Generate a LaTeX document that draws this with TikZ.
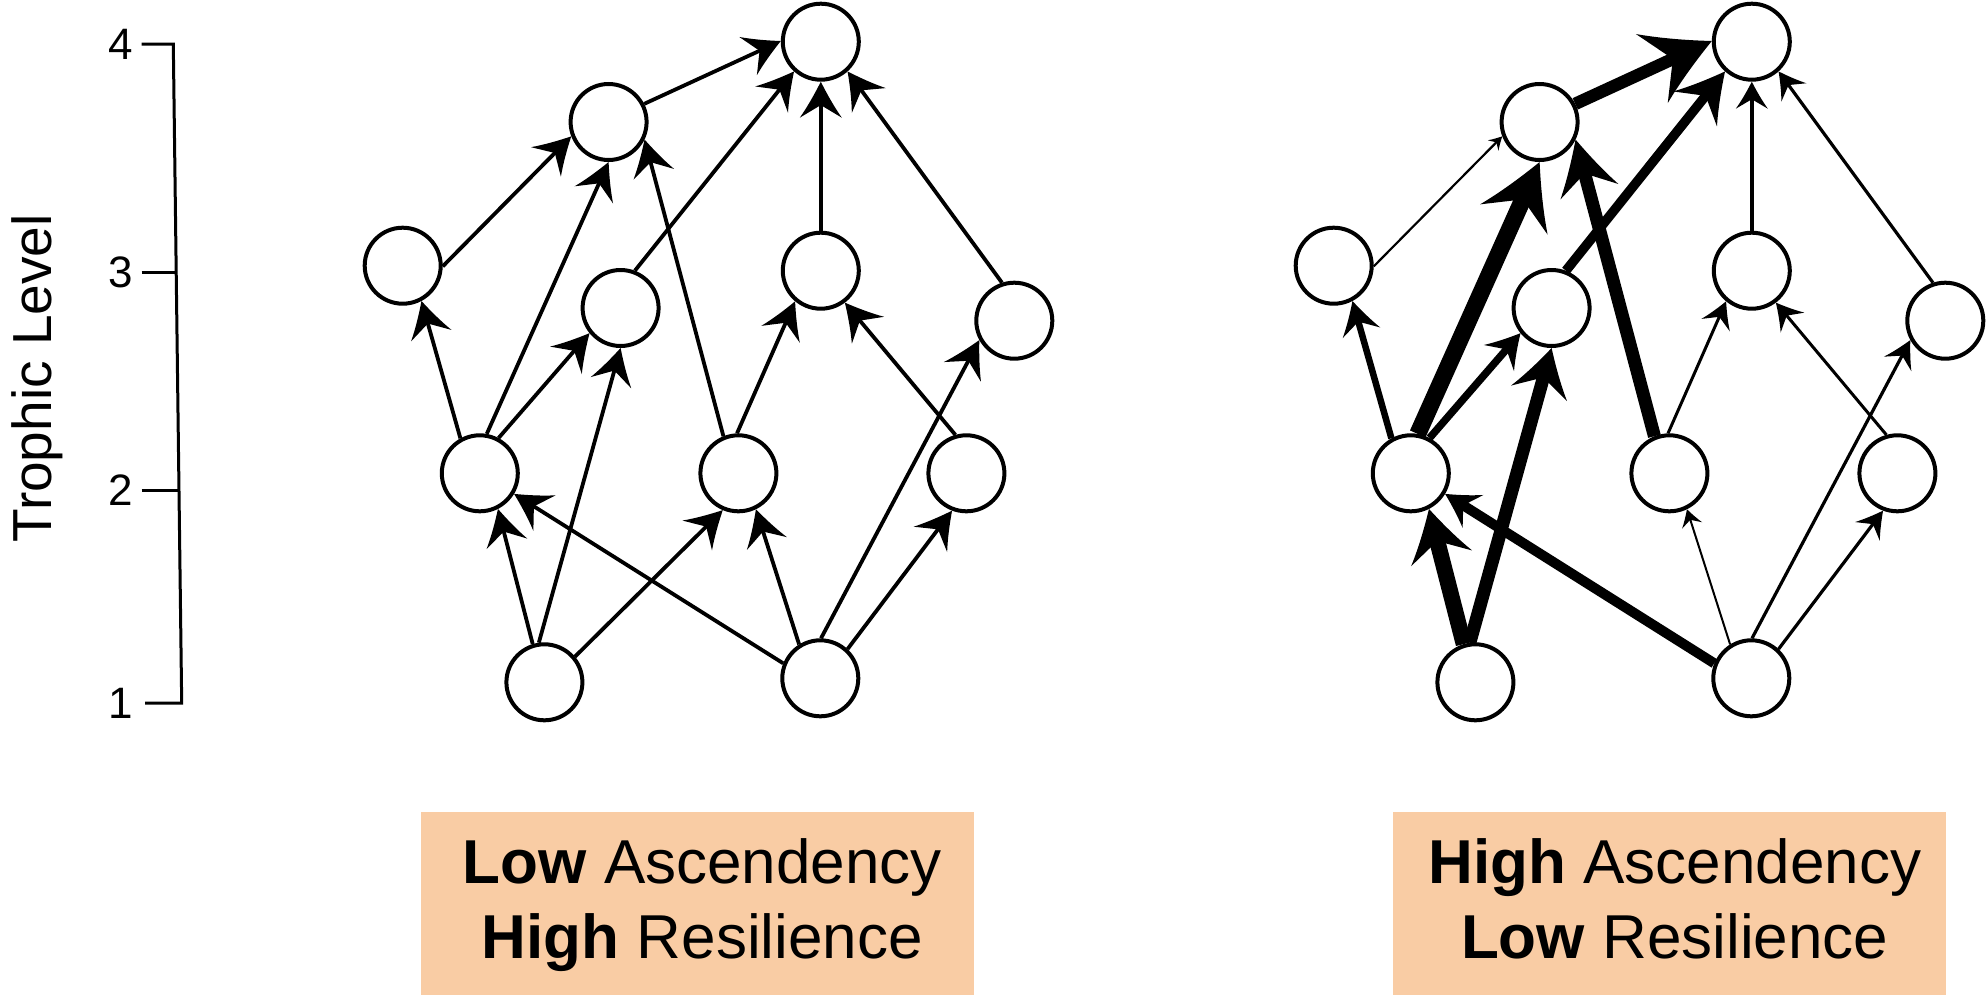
\documentclass[tikz,border=0pt]{standalone}
\usepackage{fontspec}
\setmainfont{Liberation Sans}
\usetikzlibrary{arrows.meta}
\definecolor{peach}{RGB}{249,204,164}
\pgfdeclarearrow{
  name = Swoop,
  parameters = {\the\pgfarrowlength,\the\pgfarrowwidth},
  setup code = {
    \pgfarrowssettipend{0pt}
    \pgfarrowssetbackend{-\pgfarrowlength}
    \pgfarrowssetlineend{-0.5\pgfarrowlength}
    \pgfarrowshullpoint{0pt}{0pt}
    \pgfarrowshullpoint{-\pgfarrowlength}{0.5\pgfarrowwidth}
    \pgfarrowshullpoint{-\pgfarrowlength}{-0.5\pgfarrowwidth}
    \pgfarrowssavethe\pgfarrowlength
    \pgfarrowssavethe\pgfarrowwidth
  },
  drawing code = {
    \pgfpathmoveto{\pgfpointorigin}
    \pgfpathcurveto{\pgfpoint{-0.35\pgfarrowlength}{0.15\pgfarrowwidth}}{\pgfpoint{-0.7\pgfarrowlength}{0.32\pgfarrowwidth}}{\pgfpoint{-\pgfarrowlength}{0.5\pgfarrowwidth}}
    \pgfpathlineto{\pgfpoint{-0.65\pgfarrowlength}{0pt}}
    \pgfpathlineto{\pgfpoint{-\pgfarrowlength}{-0.5\pgfarrowwidth}}
    \pgfpathcurveto{\pgfpoint{-0.7\pgfarrowlength}{-0.32\pgfarrowwidth}}{\pgfpoint{-0.35\pgfarrowlength}{-0.15\pgfarrowwidth}}{\pgfpointorigin}
    \pgfpathclose
    \pgfusepathqfill
  },
  defaults = {length = 33pt, width = 38pt}
}
\begin{document}
\begin{tikzpicture}[x=1pt,y=-1pt,
  sp/.style={circle,draw,line width=4pt,fill=white,minimum size=76pt,inner sep=0pt},
  fl/.style n args={3}{line width=#1pt,-{Swoop[length=#2pt,width=#3pt]}},
  ax/.style={line width=3pt},
  num/.style={font=\fontsize{44}{50}\selectfont,inner sep=0pt,anchor=east},
  lab/.style={font=\fontsize{62}{75}\selectfont,inner sep=0pt,anchor=base},
  labbox/.style={fill=peach,inner sep=0pt,minimum width=552.6pt,minimum height=183.3pt}]
\useasboundingbox (0,0) rectangle (1987,996);
\fill[white] (0,0) rectangle (1987,996);
% axis
\draw[ax,line join=miter] (141.7,44) -- (173.3,44) -- (181.7,703) -- (145,703);
\draw[ax] (141.7,272) -- (176.3,272);
\draw[ax] (141.7,490) -- (179.1,490);
\node[num] (t4) at (133,44) {4};
\node[num] (t3) at (133,272) {3};
\node[num] (t2) at (133,490) {2};
\node[num] (t1) at (133,703) {1};
\node[rotate=90,anchor=base,font=\fontsize{55}{60}\selectfont,inner sep=0pt] (tl) at (51,378.5) {Trophic Level};
% left nodes
\node[sp] (a1) at (544.4,682.3) {};
\node[sp] (a2) at (820.3,678.3) {};
\node[sp] (b1) at (479.8,473.3) {};
\node[sp] (b2) at (738.4,473.3) {};
\node[sp] (b3) at (966.4,473.3) {};
\node[sp] (c1) at (402.7,265.7) {};
\node[sp] (c2) at (620.6,308) {};
\node[sp] (c3) at (820.8,270.7) {};
\node[sp] (c4) at (1014.3,320.7) {};
\node[sp] (d1) at (608.6,122) {};
\node[sp] (e) at (820.8,41.7) {};
% left edges
\draw[fl={3.8}{36}{42}] (d1.27) -- (e.179);
\draw[fl={3.8}{36}{42}] (c1.-1) -- (d1.-159);
\draw[fl={3.8}{36}{42}] (b1.80) -- (d1.-90);
\draw[fl={3.8}{36}{42}] (b2.112) -- (d1.-26);
\draw[fl={3.8}{36}{42}] (c2.69) -- (e.-132);
\draw[fl={3.8}{36}{42}] (c3.90) -- (e.-90);
\draw[fl={3.8}{36}{42}] (c4.108) -- (e.-48);
\draw[fl={3.8}{36}{42}] (b1.119) -- (c1.-62);
\draw[fl={3.8}{36}{42}] (b1.62) -- (c2.-141);
\draw[fl={3.8}{36}{42}] (a1.98) -- (c2.-90);
\draw[fl={3.8}{36}{42}] (a1.107) -- (b1.-63);
\draw[fl={3.8}{36}{42}] (a1.40) -- (b2.-113);
\draw[fl={3.8}{36}{42}] (a2.158) -- (b1.-31);
\draw[fl={3.8}{36}{42}] (a2.122) -- (b2.-64);
\draw[fl={3.8}{36}{42}] (a2.89) -- (c4.-151);
\draw[fl={3.8}{36}{42}] (a2.47) -- (b3.-111);
\draw[fl={3.8}{36}{42}] (b2.92) -- (c3.-130);
\draw[fl={3.8}{36}{42}] (b3.106) -- (c3.-53);
% right nodes
\begin{scope}[xshift=931pt]
\node[sp] (ra1) at (544.4,682.3) {};
\node[sp] (ra2) at (820.3,678.3) {};
\node[sp] (rb1) at (479.8,473.3) {};
\node[sp] (rb2) at (738.4,473.3) {};
\node[sp] (rb3) at (966.4,473.3) {};
\node[sp] (rc1) at (402.7,265.7) {};
\node[sp] (rc2) at (620.6,308) {};
\node[sp] (rc3) at (820.8,270.7) {};
\node[sp] (rc4) at (1014.3,320.7) {};
\node[sp] (rd1) at (608.6,122) {};
\node[sp] (re) at (820.8,41.7) {};
\end{scope}
% right edges
\draw[fl={12.5}{66}{76}] (rd1.27) -- (re.179);
\draw[fl={2.2}{13}{15}] (rc1.-1) -- (rd1.-159);
\draw[fl={17}{63}{74}] (rb1.80) -- (rd1.-90);
\draw[fl={13}{54}{60}] (rb2.112) -- (rd1.-26);
\draw[fl={9.5}{48}{56}] (rc2.69) -- (re.-132);
\draw[fl={3.4}{27}{32}] (rc3.90) -- (re.-90);
\draw[fl={3.2}{26}{31}] (rc4.108) -- (re.-48);
\draw[fl={6.5}{33}{39}] (rb1.119) -- (rc1.-62);
\draw[fl={7.5}{33}{40}] (rb1.62) -- (rc2.-141);
\draw[fl={13}{47}{58}] (ra1.98) -- (rc2.-90);
\draw[fl={16}{51}{63}] (ra1.107) -- (rb1.-63);
\draw[fl={10}{33}{39}] (ra2.158) -- (rb1.-31);
\draw[fl={2}{17}{21}] (ra2.122) -- (rb2.-64);
\draw[fl={3.2}{27}{31}] (ra2.89) -- (rc4.-151);
\draw[fl={3.2}{26}{31}] (ra2.47) -- (rb3.-111);
\draw[fl={3}{26}{31}] (rb2.92) -- (rc3.-130);
\draw[fl={3}{26}{31}] (rb3.106) -- (rc3.-53);
% label boxes
\node[labbox] (lb) at (697.3,903.35) {};
\node[lab] (lt1) at (702.3,883) {\textbf{Low} Ascendency};
\node[lab] (lt2) at (702.3,958.3) {\textbf{High} Resilience};
\node[labbox] (rbx) at (1669.7,903.35) {};
\node[lab] (rt1) at (1674.7,883.3) {\textbf{High} Ascendency};
\node[lab] (rt2) at (1674.7,958.3) {\textbf{Low} Resilience};
\end{tikzpicture}
\end{document}
